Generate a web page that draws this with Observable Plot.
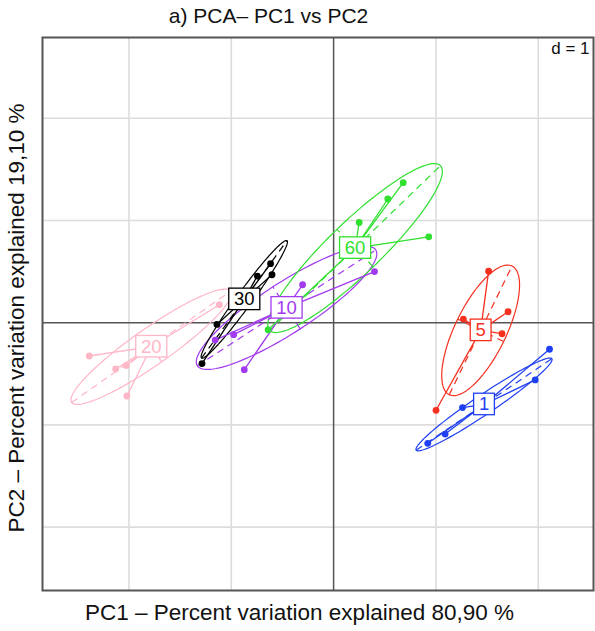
<!DOCTYPE html>
<html>
<head>
<meta charset="utf-8">
<script src="https://cdn.jsdelivr.net/npm/d3@7"></script>
<script src="https://cdn.jsdelivr.net/npm/@observablehq/plot@0.6"></script>
<style>
  body { margin: 0; background: #fff; }
  #chart { width: 595px; height: 631px; }
</style>
</head>
<body>
<div id="chart"></div>
<script>
// ---- data ----
const groups = ["1", "5", "10", "20", "30", "60"];
const groupColors = ["#1f3ff2", "#f5301f", "#a23af0", "#ffb6c6", "#000000", "#2fe02f"];

// centroids (label positions)
const centroidX = [1.47, 1.437, -0.46, -1.782, -0.873, 0.21];
const centroidY = [-0.80, -0.075, 0.145, -0.235, 0.228, 0.73];

// individual points per group
const pointsX = [
  [2.11, 1.97, 1.26, 1.09, 0.92],
  [1.515, 1.705, 1.268, 1.646, 1.001],
  [-0.303, 0.40, -0.977, -0.873, -1.157],
  [-1.117, -2.388, -2.13, -2.026, -2.02],
  [-0.616, -0.746, -0.602, -1.14, -1.286],
  [0.68, 0.53, 0.25, 0.93, -0.64]
];
const pointsY = [
  [-0.26, -0.56, -0.83, -1.09, -1.18],
  [0.504, 0.107, 0.035, -0.108, -0.857],
  [0.371, 0.50, -0.117, -0.46, -0.17],
  [0.176, -0.326, -0.453, -0.42, -0.717],
  [0.577, 0.456, 0.469, -0.017, -0.40],
  [1.37, 1.21, 0.98, 0.84, -0.07]
];

// ellipse parameters (semi-major, semi-minor, angle of major axis in degrees)
const ellipseA = [0.80, 0.70, 1.04, 0.95, 0.71, 1.16];
const ellipseB = [0.095, 0.25, 0.245, 0.18, 0.075, 0.255];
const ellipseAngle = [34, 64, 33, 35, 54, 44];

const gridTicks = [-2, -1, 1, 2];
const xDomain = [-2.845, 2.54];
const yDomain = [-2.62, 2.79];

const titleText = "a) PCA\u2013 PC1 vs PC2";
const xLabel = "PC1 \u2013 Percent variation explained 80,90 %";
const yLabel = "PC2 \u2013 Percent variation explained 19,10 %";
const scaleText = "d = 1";

// ---- derived tables ----
const centroids = groups.map((g, i) => ({g, x: centroidX[i], y: centroidY[i]}));
const points = groups.flatMap((g, i) => pointsX[i].map((x, j) => ({
  g, x, y: pointsY[i][j], cx: centroidX[i], cy: centroidY[i]
})));
const ellipsePts = groups.flatMap((g, i) => {
  const th = ellipseAngle[i] * Math.PI / 180, a = ellipseA[i], b = ellipseB[i];
  const out = [];
  for (let k = 0; k <= 120; k++) {
    const t = (k / 120) * 2 * Math.PI;
    out.push({g,
      x: centroidX[i] + a * Math.cos(t) * Math.cos(th) - b * Math.sin(t) * Math.sin(th),
      y: centroidY[i] + a * Math.cos(t) * Math.sin(th) + b * Math.sin(t) * Math.cos(th)});
  }
  return out;
});
const ellipseAxes = groups.flatMap((g, i) => {
  const th = ellipseAngle[i] * Math.PI / 180, a = ellipseA[i], b = ellipseB[i];
  const cx = centroidX[i], cy = centroidY[i];
  return [
    {g, x1: cx - a * Math.cos(th), y1: cy - a * Math.sin(th), x2: cx + a * Math.cos(th), y2: cy + a * Math.sin(th)},
    {g, x1: cx + b * Math.sin(th), y1: cy - b * Math.cos(th), x2: cx - b * Math.sin(th), y2: cy + b * Math.cos(th)}
  ];
});

const plot = Plot.plot({
  width: 595,
  height: 631,
  marginLeft: 42,
  marginRight: 2,
  marginTop: 37,
  marginBottom: 41,
  x: {domain: xDomain, axis: null},
  y: {domain: yDomain, axis: null},
  color: {domain: groups, range: groupColors},
  style: {fontFamily: "'Liberation Sans', Arial, sans-serif", background: "#fff"},
  marks: [
    Plot.ruleX(gridTicks, {stroke: "#dcdcdc", strokeWidth: 1.6}),
    Plot.ruleY(gridTicks, {stroke: "#dcdcdc", strokeWidth: 1.6}),
    Plot.ruleX([0], {stroke: "#555", strokeWidth: 1.5}),
    Plot.ruleY([0], {stroke: "#555", strokeWidth: 1.5}),
    Plot.line(ellipsePts, {x: "x", y: "y", z: "g", stroke: "g", strokeWidth: 1.2, curve: "linear"}),
    Plot.link(ellipseAxes, {x1: "x1", y1: "y1", x2: "x2", y2: "y2", stroke: "g", strokeWidth: 1.2, strokeDasharray: "7,5"}),
    Plot.link(points, {x1: "cx", y1: "cy", x2: "x", y2: "y", stroke: "g", strokeWidth: 1.3}),
    Plot.dot(points, {x: "x", y: "y", fill: "g", r: 3.4}),
    Plot.text(centroids, {x: "x", y: "y", text: "g", fill: "g", fontSize: 18.5, textAnchor: "middle", lineAnchor: "middle"}),
    Plot.frame({stroke: "#555", strokeWidth: 2}),
    Plot.text([scaleText], {frameAnchor: "top-right", textAnchor: "end", lineAnchor: "middle", dx: -4, dy: 11, fontSize: 17, fill: "#111"}),
    Plot.text([titleText], {frameAnchor: "top", textAnchor: "middle", lineAnchor: "middle", dx: -49.5, dy: -21, fontSize: 21, fill: "#111"}),
    Plot.text([xLabel], {frameAnchor: "bottom", textAnchor: "middle", lineAnchor: "middle", dx: -18.5, dy: 22.5, fontSize: 22.5, fill: "#111"}),
    Plot.text([yLabel], {frameAnchor: "left", textAnchor: "middle", lineAnchor: "middle", rotate: -90, dx: -25.5, dy: 4, fontSize: 22.5, fill: "#111"})
  ]
});

document.getElementById("chart").appendChild(plot);

// draw white boxes behind the group labels (the first text mark)
const sx = plot.scale("x"), sy = plot.scale("y");
const labelG = plot.querySelector('g[aria-label="text"]');
if (labelG) {
  const texts = Array.from(labelG.querySelectorAll("text"));
  texts.forEach((t, i) => {
    const c = centroids[i];
    const px = sx.apply(c.x), py = sy.apply(c.y);
    const w = t.getComputedTextLength() + 10.5;
    const h = 21.5;
    const rect = document.createElementNS("http://www.w3.org/2000/svg", "rect");
    rect.setAttribute("x", px - w / 2);
    rect.setAttribute("y", py - h / 2 - 0.5);
    rect.setAttribute("width", w);
    rect.setAttribute("height", h);
    rect.setAttribute("fill", "#fff");
    rect.setAttribute("stroke", groupColors[i]);
    rect.setAttribute("stroke-width", 1.3);
    labelG.insertBefore(rect, t);
  });
}
</script>
</body>
</html>
